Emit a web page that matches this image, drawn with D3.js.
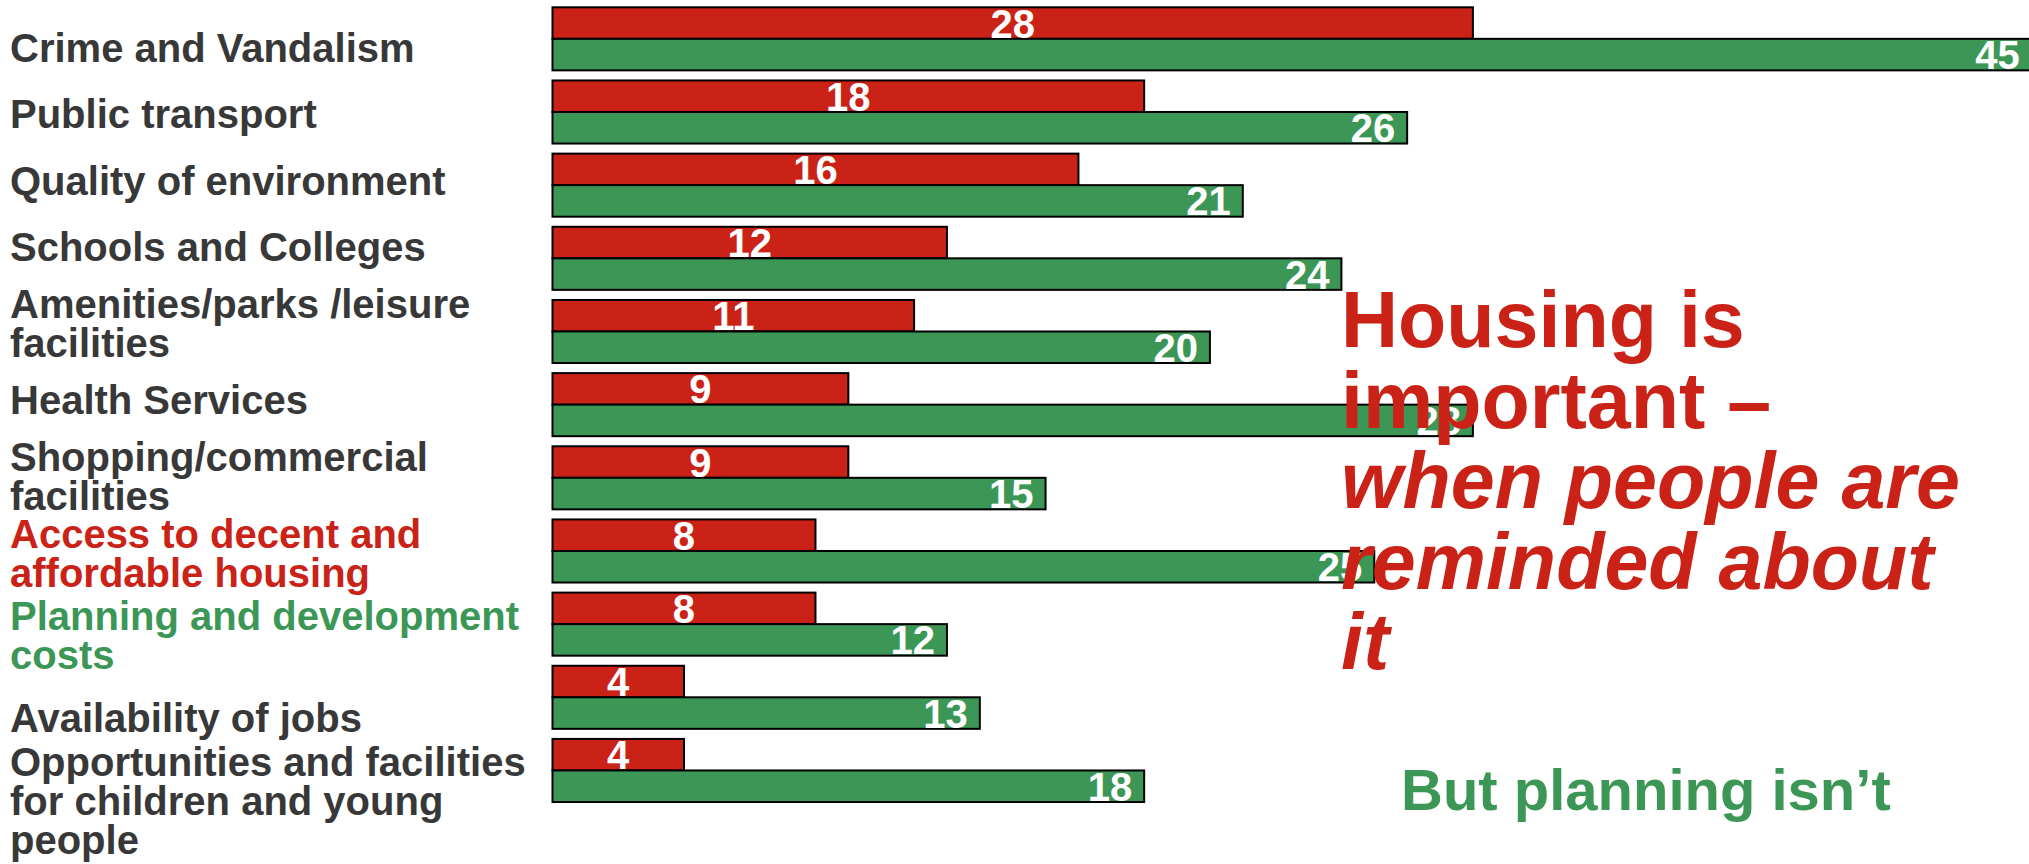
<!DOCTYPE html>
<html>
<head>
<meta charset="utf-8">
<script src="https://cdn.jsdelivr.net/npm/d3@7"></script>
<style>
  html, body { margin: 0; padding: 0; background: #ffffff; }
  svg { display: block; }
  text { font-family: "Liberation Sans", Arial, Helvetica, sans-serif; font-weight: bold; }
</style>
</head>
<body>
<svg id="chart" width="2029" height="864"></svg>
<script>
// ---- data ----
const categories = [
  "Crime and Vandalism",
  "Public transport",
  "Quality of environment",
  "Schools and Colleges",
  "Amenities/parks /leisure facilities",
  "Health Services",
  "Shopping/commercial facilities",
  "Access to decent and affordable housing",
  "Planning and development costs",
  "Availability of jobs",
  "Opportunities and facilities for children and young people"
];
const unprompted = [28, 18, 16, 12, 11, 9, 9, 8, 8, 4, 4];
const prompted   = [45, 26, 21, 24, 20, 28, 15, 25, 12, 13, 18];
const calloutMain = ["Housing is", "important –"];
const calloutItalic = ["when people are", "reminded about", "it"];
const calloutSecond = "But planning isn’t";

// ---- styles ----
const RED = "#cb2217";
const GREEN = "#3c9757";
const DARK = "#383838";
const labelColour = {
  "Access to decent and affordable housing": RED,
  "Planning and development costs": GREEN
};

const svg = d3.select("#chart");
svg.append("rect").attr("width", 2029).attr("height", 864).attr("fill", "#fff");

// ---- scales ----
const x = d3.scaleLinear().domain([0, 45]).range([552.5, 2031.7]);
const y = d3.scaleBand().domain(categories).range([7.3, 802]).paddingInner(0.138).paddingOuter(0);
// label column is laid out independently of the bars (text box), piecewise-linear by row index
const labelY = d3.scaleLinear().domain([0, 3, 7, 10]).range([48, 247, 553, 801]);
const half = y.bandwidth() / 2;

// ---- bars ----
const rows = categories.map((c, i) => ({ c, i, a: unprompted[i], b: prompted[i] }));
const g = svg.append("g");
g.selectAll("rect.red").data(rows).join("rect").attr("class", "red")
  .attr("x", x(0)).attr("y", d => y(d.c))
  .attr("width", d => x(d.a) - x(0)).attr("height", half)
  .attr("fill", RED).attr("stroke", "#000").attr("stroke-width", 2);
g.selectAll("rect.green").data(rows).join("rect").attr("class", "green")
  .attr("x", x(0)).attr("y", d => y(d.c) + half)
  .attr("width", d => x(d.b) - x(0)).attr("height", half)
  .attr("fill", GREEN).attr("stroke", "#000").attr("stroke-width", 2);

// ---- value labels ----
g.selectAll("text.vr").data(rows).join("text").attr("class", "vr")
  .attr("x", d => (x(0) + x(d.a)) / 2)
  .attr("y", d => y(d.c) + half / 2 + 14.5)
  .attr("text-anchor", "middle").attr("font-size", 40).attr("fill", "#fff")
  .text(d => d.a);
g.selectAll("text.vg").data(rows).join("text").attr("class", "vg")
  .attr("x", d => x(d.b) - 12)
  .attr("y", d => y(d.c) + half * 1.5 + 14.5)
  .attr("text-anchor", "end").attr("font-size", 40).attr("fill", "#fff")
  .text(d => d.b);

// ---- category labels (wrapped) ----
const maxW = 540, lineH = 39, fs = 40;
const meas = svg.append("text").attr("font-size", fs).attr("visibility", "hidden");
function wrap(str) {
  const words = str.split(" ");
  const lines = [];
  let cur = "";
  words.forEach(w => {
    const t = cur ? cur + " " + w : w;
    meas.text(t);
    if (meas.node().getComputedTextLength() > maxW && cur) { lines.push(cur); cur = w; }
    else cur = t;
  });
  if (cur) lines.push(cur);
  return lines;
}
const lab = svg.append("g");
rows.forEach(r => {
  const lines = wrap(r.c);
  const t = lab.append("text").attr("font-size", fs).attr("fill", labelColour[r.c] || DARK);
  lines.forEach((ln, k) => {
    t.append("tspan").attr("x", 10)
      .attr("y", labelY(r.i) + (k - (lines.length - 1) / 2) * lineH + 14)
      .text(ln);
  });
});
meas.remove();

// ---- callouts ----
const ann = svg.append("g");
const annX = 1341, annY0 = 347, annLH = 80.5;
const allLines = calloutMain.map(s => ({ s, it: false })).concat(calloutItalic.map(s => ({ s, it: true })));
ann.selectAll("text").data(allLines).join("text")
  .attr("x", annX).attr("y", (d, i) => annY0 + i * annLH)
  .attr("font-size", 79).attr("fill", RED)
  .attr("font-style", d => d.it ? "italic" : "normal")
  .text(d => d.s);
svg.append("text").attr("x", 1401).attr("y", 810)
  .attr("font-size", 58).attr("fill", GREEN).text(calloutSecond);
</script>
</body>
</html>
